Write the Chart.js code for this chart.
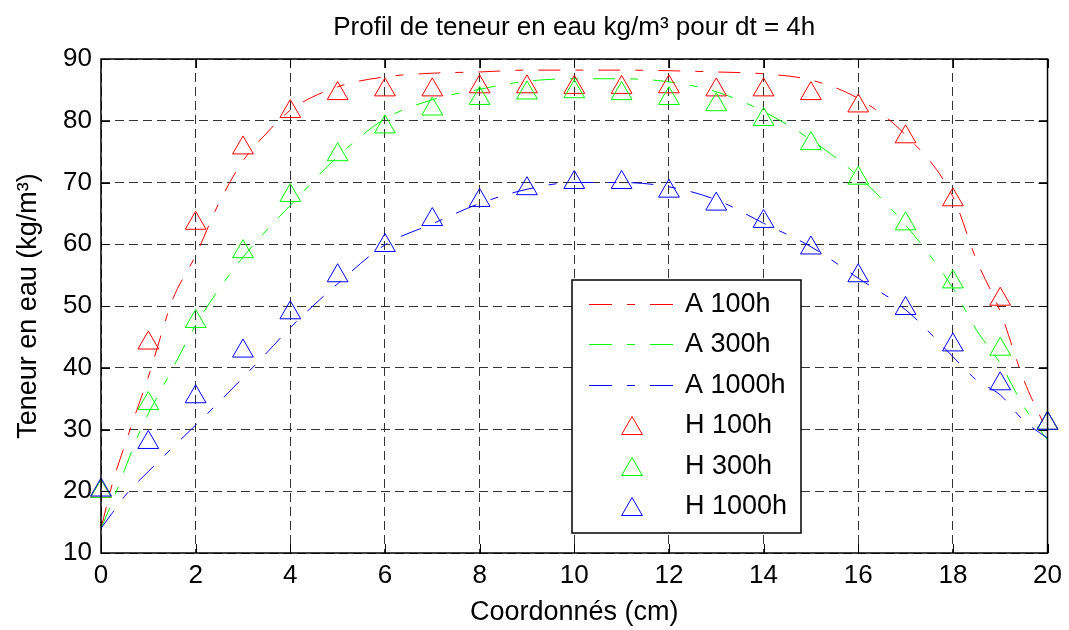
<!DOCTYPE html>
<html>
<head>
<meta charset="utf-8">
<script src="https://cdn.jsdelivr.net/npm/chart.js@4"></script>
<style>
  html, body { margin: 0; padding: 0; background: #fff; }
</style>
</head>
<body>
<canvas id="myChart" width="1069" height="630"></canvas>
<script>
// analytical profiles (A)
const xFine = [0, 0.25, 0.5, 0.75, 1, 1.25, 1.5, 2, 2.5, 3, 3.5, 4, 5, 6, 7, 8, 9, 10, 11, 12, 13, 14, 15, 16, 17, 18, 18.5, 19, 19.5, 20];
const a100  = [14, 21.5, 27.4, 33, 38.5, 44.8, 50.8, 58.2, 66.8, 73.5, 78, 81.7, 85.5, 87.1, 87.7, 87.9, 88.2, 88.2, 88.2, 88.1, 87.9, 87.6, 86.6, 83.6, 77.7, 67.7, 57.4, 49.1, 38, 29.6];
const a300  = [14, 18.5, 23.5, 28.4, 32.6, 36.1, 39.7, 46.9, 52.8, 57.9, 62.3, 66.3, 74.2, 80.3, 83.4, 85.1, 86.4, 86.8, 86.8, 86.3, 84.7, 81.5, 76.9, 71, 63.1, 52.9, 46.1, 40.7, 33.7, 28.3];
const a1000 = [14, 16.6, 19.2, 21.3, 23.2, 25.1, 27, 30.7, 34.5, 38.4, 42.4, 46.5, 53.6, 59.9, 63.3, 66.6, 68.9, 70, 70, 69.3, 67.2, 63.4, 59.6, 54.5, 49.4, 41.8, 38, 35.6, 31.4, 28.6];

// measured values (H) at the nodes
const xNodes = [0, 1, 2, 3, 4, 5, 6, 7, 8, 9, 10, 11, 12, 13, 14, 15, 16, 17, 18, 19, 20];
const h100  = [20, 44, 63.4, 75.6, 81.5, 84.4, 85, 85, 85.5, 85.5, 85.4, 85.4, 85.5, 85, 85, 84.4, 82.4, 77.4, 67.2, 51.1, 31];
const h300  = [20, 34.2, 47.5, 58.8, 67.9, 74.5, 79, 81.9, 83.6, 84.5, 84.7, 84.4, 83.6, 82.6, 80.2, 76.3, 70.7, 63.3, 53.9, 43, 31];
const h1000 = [20.2, 27.9, 35.3, 42.7, 48.9, 54.9, 59.8, 64, 67.1, 69, 70, 70, 68.6, 66.5, 63.7, 59.4, 54.9, 49.6, 43.7, 37.4, 31];

const FONT = "'Liberation Sans', Arial, Helvetica, sans-serif";
const RED = '#ff0000', GREEN = '#00ff00', BLUE = '#0000ff';
const TRI_R = 12;

Chart.defaults.font.family = FONT;
Chart.defaults.color = '#000';

function pts(xs, ys) {
    return xs.map((x, i) => ({ x: x, y: ys[i] }));
}

function lineSet(label, ys, color, order) {
    return {
        label: label,
        data: pts(xFine, ys),
        showLine: true,
        borderColor: color,
        borderWidth: 1,
        borderDash: [22, 15, 8, 15],
        pointRadius: 0,
        fill: false,
        cubicInterpolationMode: 'monotone',
        order: order,
    };
}

function markerSet(label, ys, color, order) {
    return {
        label: label,
        data: pts(xNodes, ys),
        showLine: false,
        borderColor: color,
        backgroundColor: 'rgba(0,0,0,0)',
        borderWidth: 1,
        pointStyle: 'triangle',
        pointRadius: TRI_R,
        clip: false,
        order: order,
    };
}

// frame, inward ticks and the boxed legend
const axesBox = {
    id: 'axesBox',
    afterDraw(chart) {
        const ctx = chart.ctx;
        const a = chart.chartArea;
        const xs = chart.scales.x, ys = chart.scales.y;
        ctx.save();
        ctx.strokeStyle = '#000';
        ctx.lineWidth = 1;
        ctx.beginPath();
        xs.ticks.forEach(t => {
            const px = Math.round(xs.getPixelForValue(t.value)) + 0.5;
            ctx.moveTo(px, a.bottom); ctx.lineTo(px, a.bottom - 9);
            ctx.moveTo(px, a.top); ctx.lineTo(px, a.top + 9);
        });
        ys.ticks.forEach(t => {
            const py = Math.round(ys.getPixelForValue(t.value)) + 0.5;
            ctx.moveTo(a.left, py); ctx.lineTo(a.left + 9, py);
            ctx.moveTo(a.right, py); ctx.lineTo(a.right - 9, py);
        });
        ctx.stroke();
        ctx.lineWidth = 1.5;
        ctx.strokeRect(a.left, a.top, a.right - a.left, a.bottom - a.top);

        // legend
        const lx = 572, ly = 280, lw = 229, lh = 253;
        ctx.fillStyle = '#fff';
        ctx.fillRect(lx, ly, lw, lh);
        ctx.strokeRect(lx, ly, lw, lh);
        ctx.font = '27px ' + FONT;
        ctx.textBaseline = 'middle';
        ctx.textAlign = 'left';
        chart.data.datasets.forEach((ds, i) => {
            const y = Math.round(304 + i * 40.4) + 0.5;
            ctx.strokeStyle = ds.borderColor;
            ctx.lineWidth = 1;
            if (ds.showLine === false) {
                ctx.fillStyle = 'rgba(0,0,0,0)';
                Chart.helpers.drawPoint(ctx, {
                    pointStyle: 'triangle', radius: TRI_R, rotation: 0, borderWidth: 1
                }, 632, y + TRI_R / 4);
            } else {
                ctx.setLineDash([23, 15, 8, 15]);
                ctx.beginPath();
                ctx.moveTo(589, y);
                ctx.lineTo(673, y);
                ctx.stroke();
                ctx.setLineDash([]);
            }
            ctx.fillStyle = '#000';
            ctx.fillText(ds.label, 685, y);
        });
        ctx.restore();
    }
};

var ctx = document.getElementById('myChart').getContext('2d');

var chart = new Chart(ctx, {
    type: 'scatter',
    data: {
        datasets: [
            lineSet('A 100h', a100, RED, 6),
            lineSet('A 300h', a300, GREEN, 5),
            lineSet('A 1000h', a1000, BLUE, 4),
            markerSet('H 100h', h100, RED, 3),
            markerSet('H 300h', h300, GREEN, 2),
            markerSet('H 1000h', h1000, BLUE, 1),
        ],
    },
    options: {
        responsive: false,
        animation: false,
        devicePixelRatio: 1,
        layout: { padding: { left: 0, right: 18, top: 0, bottom: 0 } },
        plugins: {
            legend: { display: false },
            tooltip: { enabled: false },
            title: {
                display: true,
                fullSize: false,
                text: 'Profil de teneur en eau kg/m³ pour dt = 4h',
                color: '#000',
                font: { size: 26, weight: 'normal', lineHeight: '31px' },
                padding: { top: 12, bottom: 16 },
            },
        },
        scales: {
            x: {
                type: 'linear',
                min: 0,
                max: 20,
                ticks: { stepSize: 2, font: { size: 26 }, padding: 7, color: '#000' },
                grid: { color: '#333', lineWidth: 1, drawTicks: false },
                border: { display: false, dash: [9, 5] },
                title: {
                    display: true,
                    text: 'Coordonnés (cm)',
                    font: { size: 27, lineHeight: 1 },
                    padding: { top: 0, bottom: 4 },
                    color: '#000',
                },
                afterFit(scale) { scale.height = 77; },
            },
            y: {
                type: 'linear',
                min: 10,
                max: 90,
                ticks: { stepSize: 10, font: { size: 26 }, padding: 9, color: '#000' },
                grid: { color: '#333', lineWidth: 1, drawTicks: false },
                border: { display: false, dash: [9, 5] },
                title: {
                    display: true,
                    text: 'Teneur en eau (kg/m³)',
                    font: { size: 27, lineHeight: 1 },
                    padding: { top: 15, bottom: 0 },
                    color: '#000',
                },
                afterFit(scale) { scale.width = 101; },
            },
        },
    },
    plugins: [axesBox],
});
</script>
</body>
</html>
